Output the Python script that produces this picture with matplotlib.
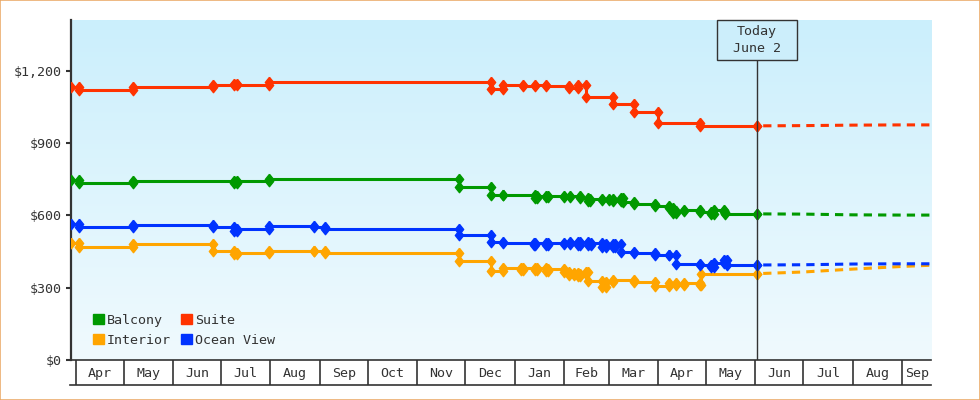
import matplotlib
matplotlib.use("Agg")
import matplotlib.pyplot as plt
import matplotlib.dates as mdates
from matplotlib.patches import Rectangle, Patch
from matplotlib.transforms import blended_transform_factory
import numpy as np

# price change history (date of change, new price)
balcony_dates = ["2024-03-29", "2024-04-03", "2024-05-07", "2024-07-09", "2024-07-11", "2024-07-31",
                 "2024-11-27", "2024-12-17", "2024-12-25", "2025-01-14", "2025-01-15", "2025-01-21",
                 "2025-01-22", "2025-02-01", "2025-02-05", "2025-02-11", "2025-02-16", "2025-02-17",
                 "2025-02-25", "2025-03-01", "2025-03-04", "2025-03-09", "2025-03-10", "2025-03-17",
                 "2025-03-30", "2025-04-08", "2025-04-10", "2025-04-12", "2025-04-17", "2025-04-27",
                 "2025-05-04", "2025-05-06", "2025-05-12", "2025-05-13"]
balcony_prices = [747, 734, 744, 736, 741, 751,
                  717, 685, 683, 672, 680, 675,
                  681, 675, 679, 672, 658, 668,
                  662, 668, 660, 670, 655, 646,
                  637, 629, 608, 619, 621, 613,
                  607, 620, 615, 606]

interior_dates = ["2024-03-29", "2024-04-03", "2024-05-07", "2024-06-26", "2024-07-09", "2024-07-11",
                  "2024-07-31", "2024-08-28", "2024-09-04", "2024-11-27", "2024-12-17", "2024-12-25",
                  "2025-01-05", "2025-01-06", "2025-01-14", "2025-01-15", "2025-01-21", "2025-01-22",
                  "2025-02-01", "2025-02-04", "2025-02-07", "2025-02-10", "2025-02-11", "2025-02-15",
                  "2025-02-16", "2025-02-25", "2025-02-27", "2025-03-04", "2025-03-17", "2025-03-30",
                  "2025-04-08", "2025-04-12", "2025-04-17", "2025-04-27", "2025-04-28"]
interior_prices = [485, 468, 481, 453, 441, 445,
                   453, 451, 443, 411, 369, 382,
                   373, 381, 372, 380, 371, 378,
                   364, 353, 362, 348, 358, 363,
                   326, 304, 325, 333, 323, 307,
                   321, 310, 318, 310, 358]

suite_dates = ["2024-03-29", "2024-04-03", "2024-05-07", "2024-06-26", "2024-07-09", "2024-07-11",
               "2024-07-31", "2024-12-17", "2024-12-25", "2025-01-06", "2025-01-14", "2025-01-21",
               "2025-02-04", "2025-02-10", "2025-02-15", "2025-03-04", "2025-03-17", "2025-04-01",
               "2025-04-27"]
suite_prices = [1131, 1120, 1134, 1141, 1145, 1141,
                1152, 1122, 1140, 1135, 1140, 1135,
                1130, 1140, 1090, 1062, 1030, 982,
                971]

ocean_dates = ["2024-03-29", "2024-04-03", "2024-05-07", "2024-06-26", "2024-07-09", "2024-07-11",
               "2024-07-31", "2024-08-28", "2024-09-04", "2024-11-27", "2024-12-17", "2024-12-25",
               "2025-01-13", "2025-01-14", "2025-01-21", "2025-01-22", "2025-02-01", "2025-02-05",
               "2025-02-10", "2025-02-11", "2025-02-16", "2025-02-18", "2025-02-25", "2025-02-27",
               "2025-03-04", "2025-03-05", "2025-03-09", "2025-03-17", "2025-03-30", "2025-04-08",
               "2025-04-12", "2025-04-27", "2025-05-04", "2025-05-06", "2025-05-12", "2025-05-14"]
ocean_prices = [564, 551, 559, 552, 537, 543,
                556, 553, 545, 519, 490, 487,
                478, 486, 476, 487, 480, 488,
                477, 488, 476, 484, 470, 481,
                469, 479, 447, 444, 436, 434,
                399, 396, 385, 403, 413, 394]

# forecast after today
forecast_dates = ["2025-06-02", "2025-07-01", "2025-08-01", "2025-09-01", "2025-09-19"]
balcony_forecast = [606, 605, 602, 601, 601]
interior_forecast = [358, 365, 377, 388, 393]
suite_forecast = [971, 972, 974, 975, 975]
ocean_forecast = [394, 395, 398, 399, 399]

today = "2025-06-02"
end_date = "2025-09-19"
month_names = ["Jan", "Feb", "Mar", "Apr", "May", "Jun", "Jul", "Aug", "Sep", "Oct", "Nov", "Dec"]
y_ticks = [0, 300, 600, 900, 1200]

ink = "#333333"
fs = 9.6
plt.rcParams["font.family"] = "DejaVu Sans Mono"

fig = plt.figure(figsize=(9.8, 4.0), dpi=100)
ax = fig.add_axes([71 / 980, 40 / 400, 860 / 980, 340 / 400])

# background gradient
grad = np.linspace(0, 1, 256).reshape(-1, 1)
top_c = np.array([203, 239, 252]) / 255
bot_c = np.array([240, 250, 254]) / 255
img = top_c * (1 - grad[..., None]) + bot_c * grad[..., None]
ax.imshow(img, extent=[0, 1, 0, 1], transform=ax.transAxes, aspect="auto", zorder=0)

diamond = [(0, 1), (0.8, 0), (0, -1), (-0.8, 0), (0, 1)]
t_today = mdates.datestr2num(today)

series = [
    ("Interior", "#FFA500", interior_dates, interior_prices, interior_forecast),
    ("Ocean View", "#0033FF", ocean_dates, ocean_prices, ocean_forecast),
    ("Balcony", "#009900", balcony_dates, balcony_prices, balcony_forecast),
    ("Suite", "#FF3300", suite_dates, suite_prices, suite_forecast),
]

for name, col, d, p, fc in series:
    t = list(mdates.datestr2num(d)) + [t_today]
    v = list(p) + [p[-1]]
    ax.plot(t, v, drawstyle="steps-post", color=col, lw=2.2, zorder=3)
    # markers before and after each change
    mx = [t[0]]
    my = [v[0]]
    for i in range(1, len(t)):
        mx += [t[i], t[i]]
        my += [v[i - 1], v[i]]
    ax.plot(mx, my, ls="none", marker=diamond, ms=7.5, color=col, zorder=4)
    ax.plot(mdates.datestr2num(forecast_dates), fc, color=col, lw=2.2,
            ls=(2.7, (2.7, 2.0)), zorder=3)

x0 = mdates.datestr2num(balcony_dates[0])
x1 = mdates.datestr2num(end_date)
ax.set_xlim(x0, x1)
ax.set_ylim(0, 1410)

# y axis
ax.set_yticks(y_ticks)
ax.set_yticklabels(["$" + format(v, ",") for v in y_ticks])
ax.tick_params(axis="y", length=3.6, width=1.5, color=ink, labelcolor=ink, labelsize=fs, pad=3)

# month boxes on the x axis
starts = []
m = np.datetime64("2024-04")
while mdates.date2num(m.astype("datetime64[D]")) < x1:
    starts.append(m)
    m = m + 1
start_nums = [mdates.date2num(s.astype("datetime64[D]")) for s in starts]
ax.set_xticks(start_nums)
ax.set_xticklabels([])
ax.tick_params(axis="x", which="major", length=18, width=1.2, color=ink, direction="out")
mids = []
labels = []
for i, s in enumerate(starts):
    a = start_nums[i]
    b = start_nums[i + 1] if i + 1 < len(start_nums) else x1
    mids.append((a + b) / 2)
    labels.append(month_names[int(str(s)[5:7]) - 1])
ax.set_xticks(mids, minor=True)
ax.set_xticklabels(labels, minor=True)
ax.tick_params(axis="x", which="minor", length=0, labelsize=fs, labelcolor=ink, pad=5)
ax.plot([-1 / 860, 1], [-25 / 340, -25 / 340], transform=ax.transAxes, color=ink, lw=1.2, clip_on=False)

for s in ["top", "right"]:
    ax.spines[s].set_visible(False)
ax.spines["left"].set_color(ink)
ax.spines["left"].set_linewidth(1.6)
ax.spines["bottom"].set_color(ink)
ax.spines["bottom"].set_linewidth(1.2)

# today marker
blend = blended_transform_factory(ax.transData, ax.transAxes)
box_w = 80 * (x1 - x0) / 860
box_h = 40 / 340
ax.plot([t_today, t_today], [0, 1 - box_h], transform=blend, color=ink, lw=1, zorder=5)
ax.add_patch(Rectangle((t_today - box_w / 2, 1 - box_h), box_w, box_h, transform=blend,
                       facecolor="#CCEEFB", edgecolor=ink, lw=1, zorder=6, clip_on=False))
ax.text(t_today, 1 - box_h / 2, "Today\nJune 2", transform=blend, ha="center", va="center",
        fontsize=fs, color=ink, linespacing=1.35, zorder=7)

# legend
handles = [Patch(color=c) for c in ["#009900", "#FFA500", "#FF3300", "#0033FF"]]
ax.legend(handles, ["Balcony", "Interior", "Suite", "Ocean View"], ncol=2, loc="upper left",
          bbox_to_anchor=(22 / 860, 46 / 340), frameon=False, fontsize=fs, handlelength=0.8,
          handleheight=0.8, handletextpad=0.25, columnspacing=0.75, labelspacing=0.5,
          borderpad=0, borderaxespad=0, labelcolor=ink)

# orange outer frame
fig.patches.append(Rectangle((0.0005, 0.0012), 0.999, 0.9976, transform=fig.transFigure,
                             fill=False, edgecolor="#E9A560", lw=1.1))

fig.savefig("out.png", dpi=100)
